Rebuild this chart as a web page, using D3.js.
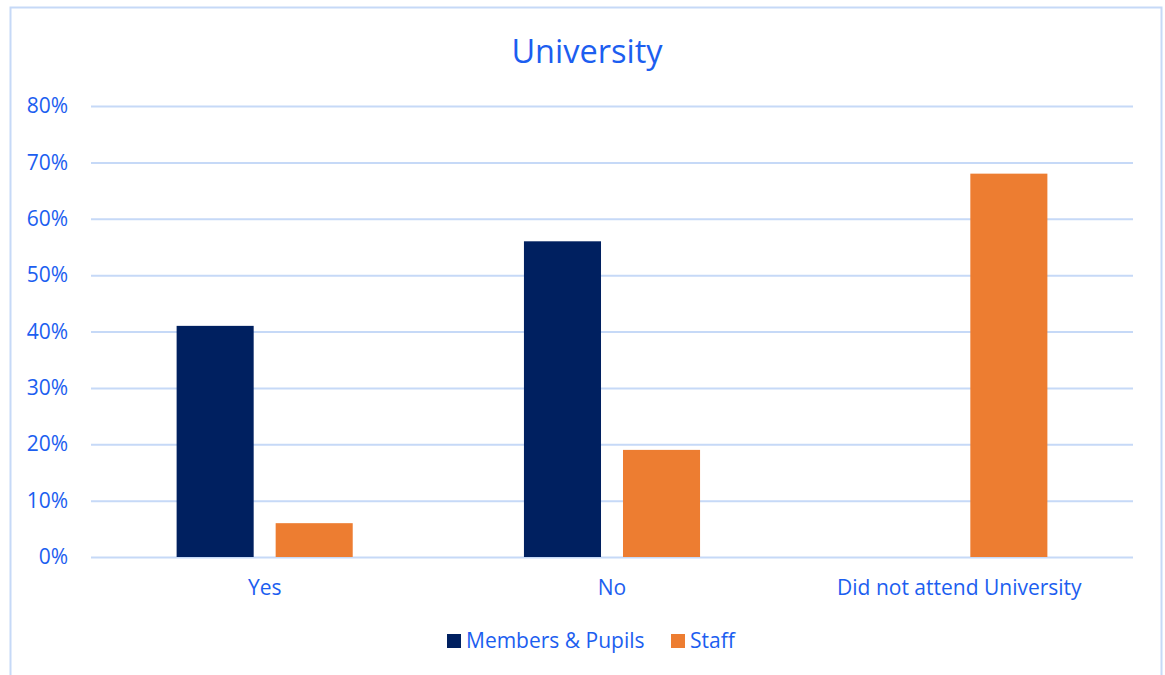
<!DOCTYPE html>
<html><head><meta charset="utf-8">
<script src="https://cdn.jsdelivr.net/npm/d3@7"></script>
<style>html,body{margin:0;padding:0;background:#fff;}svg{display:block;}</style>
</head><body>
<svg id="c" width="1165" height="675"></svg>
<script>
const categories = ["Yes", "No", "Did not attend University"];
const seriesNames = ["Members & Pupils", "Staff"];
const membersPupils = [0.41, 0.56, 0];
const staff = [0.06, 0.19, 0.68];
const yTicks = [0, 0.1, 0.2, 0.3, 0.4, 0.5, 0.6, 0.7, 0.8];
const colors = ["#002060", "#ED7D31"];

(function () {
const textColor = "#1c5ef0";
const font = "'Open Sans', Lato, sans-serif";
const svg = d3.select("#c");

svg.append("rect").attr("x", 10.5).attr("y", 7.5).attr("width", 1151).attr("height", 680)
  .attr("fill", "#fff").attr("stroke", "#c6d9f7").attr("stroke-width", 2);

const pLeft = 91, pRight = 1133, pTop = 106, pBottom = 557;
const y = d3.scaleLinear().domain([0, 0.8]).range([pBottom, pTop]);
const x0 = d3.scaleBand().domain(categories).range([pLeft, pRight]).paddingInner(0.493).paddingOuter(0.2465);
const x1 = d3.scaleBand().domain(seriesNames).range([0, x0.bandwidth()]).paddingInner(0.222);

svg.append("text").attr("x", 587).attr("y", 63).attr("text-anchor", "middle")
  .attr("font-family", font).attr("font-size", 32.5).attr("fill", textColor).text("University");

const yAxis = d3.axisLeft(y).tickValues(yTicks).tickFormat(d3.format(".0%")).tickSize(-(pRight - pLeft)).tickPadding(23);
const ga = svg.append("g").attr("transform", `translate(${pLeft},0)`).call(yAxis);
ga.select(".domain").remove();
ga.selectAll(".tick line").attr("stroke", "#c6d9f7").attr("stroke-width", 2);
ga.selectAll(".tick text").attr("font-family", font).attr("font-size", 21).attr("fill", textColor);

const data = categories.map((c, i) => ({cat: c, vals: [membersPupils[i], staff[i]]}));
const groups = svg.append("g").selectAll("g").data(data).join("g")
  .attr("transform", d => `translate(${x0(d.cat)},0)`);
groups.selectAll("rect").data(d => d.vals.map((v, j) => ({name: seriesNames[j], v, j})))
  .join("rect")
  .attr("x", d => x1(d.name)).attr("width", x1.bandwidth())
  .attr("y", d => y(d.v)).attr("height", d => y(0) - y(d.v))
  .attr("fill", d => colors[d.j]);

const xAxis = d3.axisBottom(x0).tickSize(0).tickPadding(23);
const gx = svg.append("g").attr("transform", `translate(0,${pBottom})`).call(xAxis);
gx.select(".domain").remove();
gx.selectAll(".tick text").attr("font-family", font).attr("font-size", 21).attr("fill", textColor);

const legendItems = [{name: seriesNames[0], x: 447}, {name: seriesNames[1], x: 671}];
const lg = svg.append("g");
legendItems.forEach((it, i) => {
  lg.append("rect").attr("x", it.x).attr("y", 634).attr("width", 14).attr("height", 14).attr("fill", colors[i]);
  lg.append("text").attr("x", it.x + 19).attr("y", 648).attr("font-family", font).attr("font-size", 21)
    .attr("fill", textColor).text(it.name);
});
})();
</script>
</body></html>
